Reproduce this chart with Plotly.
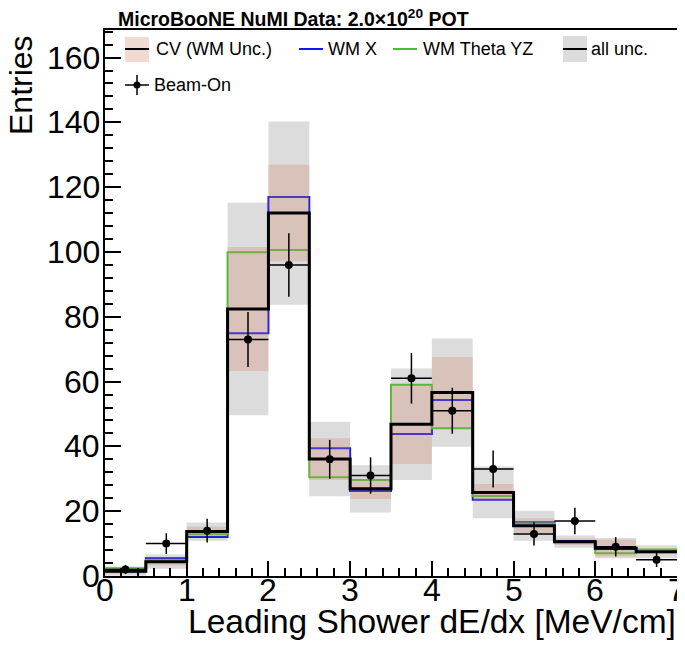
import plotly.graph_objects as go

# ---------------- data ----------------
bin_edges = [0.0, 0.5, 1.0, 1.5, 2.0, 2.5, 3.0, 3.5, 4.0, 4.5, 5.0, 5.5, 6.0, 6.5, 7.0]
cv = [1.5, 4.4, 13.7, 82.4, 112.0, 36.1, 26.9, 46.8, 56.6, 25.8, 15.5, 10.6, 8.6, 7.5]
wm_unc = [0.8, 1.1, 1.5, 19.1, 14.9, 6.4, 3.1, 12.2, 11.0, 2.6, 2.3, 1.0, 2.6, 0.8]
all_unc = [1.4, 2.2, 2.8, 32.8, 28.3, 11.5, 7.3, 17.2, 16.7, 8.0, 4.6, 1.9, 3.1, 2.0]
wm_x = [1.5, 5.5, 12.0, 74.9, 117.0, 39.4, 26.2, 43.8, 54.3, 23.5, 16.6, 10.8, 8.3, 7.5]
wm_theta_yz = [2.4, 4.9, 12.9, 99.9, 100.6, 30.5, 29.6, 59.0, 45.6, 24.7, 16.2, 10.4, 7.0, 8.2]
beam_on = [2, 10, 14, 73, 96, 36, 31, 61, 51, 33, 13, 17, 9, 5]
beam_on_err = [1.4, 3.2, 3.7, 8.5, 9.8, 6.0, 5.6, 7.8, 7.1, 5.7, 3.6, 4.1, 3.0, 2.2]

x_ticks = [0, 1, 2, 3, 4, 5, 6, 7]
y_ticks = [0, 20, 40, 60, 80, 100, 120, 140, 160]

# ---------------- helpers ----------------
W, H = 685, 651
PAGE_OFF = 8  # default page body margin
L, R, T, B = 105, 677, 30, 576  # plot frame in screen pixels
FONT = "Liberation Sans, Arial, Helvetica, sans-serif"


def px(x):
    return (x - L) / (R - L)


def py(y):
    return (B - y) / (B - T)


centers = [(bin_edges[i] + bin_edges[i + 1]) / 2 for i in range(len(cv))]
half_w = [(bin_edges[i + 1] - bin_edges[i]) / 2 for i in range(len(cv))]


def step(vals):
    return list(vals) + [vals[-1]]


def band(vals, errs, color):
    lo = [v - e for v, e in zip(vals, errs)]
    hi = [v + e for v, e in zip(vals, errs)]
    return [
        go.Scatter(x=bin_edges, y=step(lo), mode="lines", line=dict(width=0, shape="hv"),
                   hoverinfo="skip", showlegend=False),
        go.Scatter(x=bin_edges, y=step(hi), mode="lines", line=dict(width=0, shape="hv"),
                   fill="tonexty", fillcolor=color, hoverinfo="skip", showlegend=False),
    ]


GREY = "rgb(220,220,220)"
PEACH = "rgba(207,137,105,0.31)"
BLUE = "rgb(20,20,245)"
GREEN = "rgb(75,190,50)"

fig = go.Figure()
for t in band(cv, all_unc, GREY):
    fig.add_trace(t)
fig.add_trace(go.Scatter(x=bin_edges, y=step(wm_x), mode="lines",
                         line=dict(color=BLUE, width=2, shape="hv"), showlegend=False))
fig.add_trace(go.Scatter(x=bin_edges, y=step(wm_theta_yz), mode="lines",
                         line=dict(color=GREEN, width=2, shape="hv"), showlegend=False))
for t in band(cv, wm_unc, PEACH):
    fig.add_trace(t)
fig.add_trace(go.Scatter(x=bin_edges, y=step(cv), mode="lines",
                         line=dict(color="black", width=3, shape="hv"), showlegend=False))
fig.add_trace(go.Scatter(
    x=centers, y=beam_on, mode="markers",
    marker=dict(color="black", size=8, symbol="circle"),
    error_y=dict(type="data", array=beam_on_err, color="black", thickness=1.5, width=0),
    error_x=dict(type="data", array=half_w, color="black", thickness=1.5, width=0),
    showlegend=False))

# ---------------- manual legend ----------------
shapes = []
annotations = []
row1, row2 = 49, 85
leg_font = dict(family=FONT, size=18, color="black")

# CV (WM Unc.)
shapes.append(dict(type="rect", xref="paper", yref="paper", x0=px(125), x1=px(149),
                   y0=py(62), y1=py(37), fillcolor=PEACH, line=dict(width=0)))
shapes.append(dict(type="line", xref="paper", yref="paper", x0=px(125), x1=px(149),
                   y0=py(row1), y1=py(row1), line=dict(color="black", width=2)))
annotations.append(dict(text="CV (WM Unc.)", x=px(154), y=py(row1), xref="paper", yref="paper",
                        xanchor="left", yanchor="middle", showarrow=False, font=leg_font))
# WM X
shapes.append(dict(type="line", xref="paper", yref="paper", x0=px(299), x1=px(323),
                   y0=py(row1), y1=py(row1), line=dict(color=BLUE, width=2)))
annotations.append(dict(text="WM X", x=px(326), y=py(row1), xref="paper", yref="paper",
                        xanchor="left", yanchor="middle", showarrow=False, font=leg_font))
# WM Theta YZ
shapes.append(dict(type="line", xref="paper", yref="paper", x0=px(393), x1=px(417),
                   y0=py(row1), y1=py(row1), line=dict(color=GREEN, width=2)))
annotations.append(dict(text="WM Theta YZ", x=px(421), y=py(row1), xref="paper", yref="paper",
                        xanchor="left", yanchor="middle", showarrow=False, font=leg_font))
# all unc.
shapes.append(dict(type="rect", xref="paper", yref="paper", x0=px(563), x1=px(587),
                   y0=py(62), y1=py(36), fillcolor=GREY, line=dict(width=0)))
shapes.append(dict(type="line", xref="paper", yref="paper", x0=px(563), x1=px(587),
                   y0=py(row1), y1=py(row1), line=dict(color="black", width=2)))
annotations.append(dict(text="all unc.", x=px(589), y=py(row1), xref="paper", yref="paper",
                        xanchor="left", yanchor="middle", showarrow=False, font=leg_font))
# Beam-On
shapes.append(dict(type="line", xref="paper", yref="paper", x0=px(125), x1=px(149),
                   y0=py(row2), y1=py(row2), line=dict(color="black", width=1.5)))
shapes.append(dict(type="line", xref="paper", yref="paper", x0=px(137), x1=px(137),
                   y0=py(95), y1=py(75), line=dict(color="black", width=1.5)))
shapes.append(dict(type="circle", xref="paper", yref="paper", x0=px(133.5), x1=px(140.5),
                   y0=py(88.5), y1=py(81.5), fillcolor="black", line=dict(width=0)))
annotations.append(dict(text="Beam-On", x=px(152), y=py(row2), xref="paper", yref="paper",
                        xanchor="left", yanchor="middle", showarrow=False, font=leg_font))

# title
annotations.append(dict(text="<b>MicroBooNE NuMI Data: 2.0×10<sup>20</sup> POT</b>",
                        x=px(116), y=py(18), xref="paper", yref="paper",
                        xanchor="left", yanchor="middle", showarrow=False,
                        font=dict(family=FONT, size=19.5, color="black")))
# axis titles
annotations.append(dict(text="Entries", x=px(21), y=py(33), xref="paper", yref="paper",
                        xanchor="center", yanchor="top", textangle=-90, showarrow=False,
                        font=dict(family=FONT, size=32, color="black")))
annotations.append(dict(text="Leading Shower dE/dx [MeV/cm]", x=px(678), y=py(621),
                        xref="paper", yref="paper", xanchor="right", yanchor="middle",
                        showarrow=False, font=dict(family=FONT, size=33.5, color="black")))

# tick labels (drawn as annotations for precise placement)
tick_font = dict(family=FONT, size=32, color="black")
for v in y_ticks:
    annotations.append(dict(text=str(v), x=px(102), y=v, xref="paper", yref="y",
                            xanchor="right", yanchor="middle", showarrow=False, font=tick_font))
for v in x_ticks:
    annotations.append(dict(text=str(v), x=v, y=py(570), xref="x", yref="paper",
                            xanchor="center", yanchor="top", showarrow=False, font=tick_font))

fig.update_layout(
    width=W, height=H,
    margin=dict(l=L - PAGE_OFF, r=W - (R - PAGE_OFF), t=T - PAGE_OFF,
                b=H - (B - PAGE_OFF), autoexpand=False),
    paper_bgcolor="white", plot_bgcolor="white",
    shapes=shapes, annotations=annotations,
    showlegend=False,
)
fig.update_xaxes(range=[0, 7], tickvals=x_ticks, showticklabels=False, automargin=False,
                 ticks="inside", ticklen=15, tickwidth=1.5, tickcolor="black",
                 minor=dict(dtick=0.2, ticks="inside", ticklen=8, tickwidth=1.5, tickcolor="black"),
                 showline=True, linewidth=2, linecolor="black", mirror=True,
                 showgrid=False, zeroline=False)
fig.update_yaxes(range=[0, 168.5], tickvals=y_ticks, showticklabels=False, automargin=False,
                 ticks="inside", ticklen=16, tickwidth=1.5, tickcolor="black",
                 minor=dict(dtick=4, ticks="inside", ticklen=8, tickwidth=1.5, tickcolor="black"),
                 showline=True, linewidth=2, linecolor="black", mirror=True,
                 showgrid=False, zeroline=False)

fig.write_html("out.html")
